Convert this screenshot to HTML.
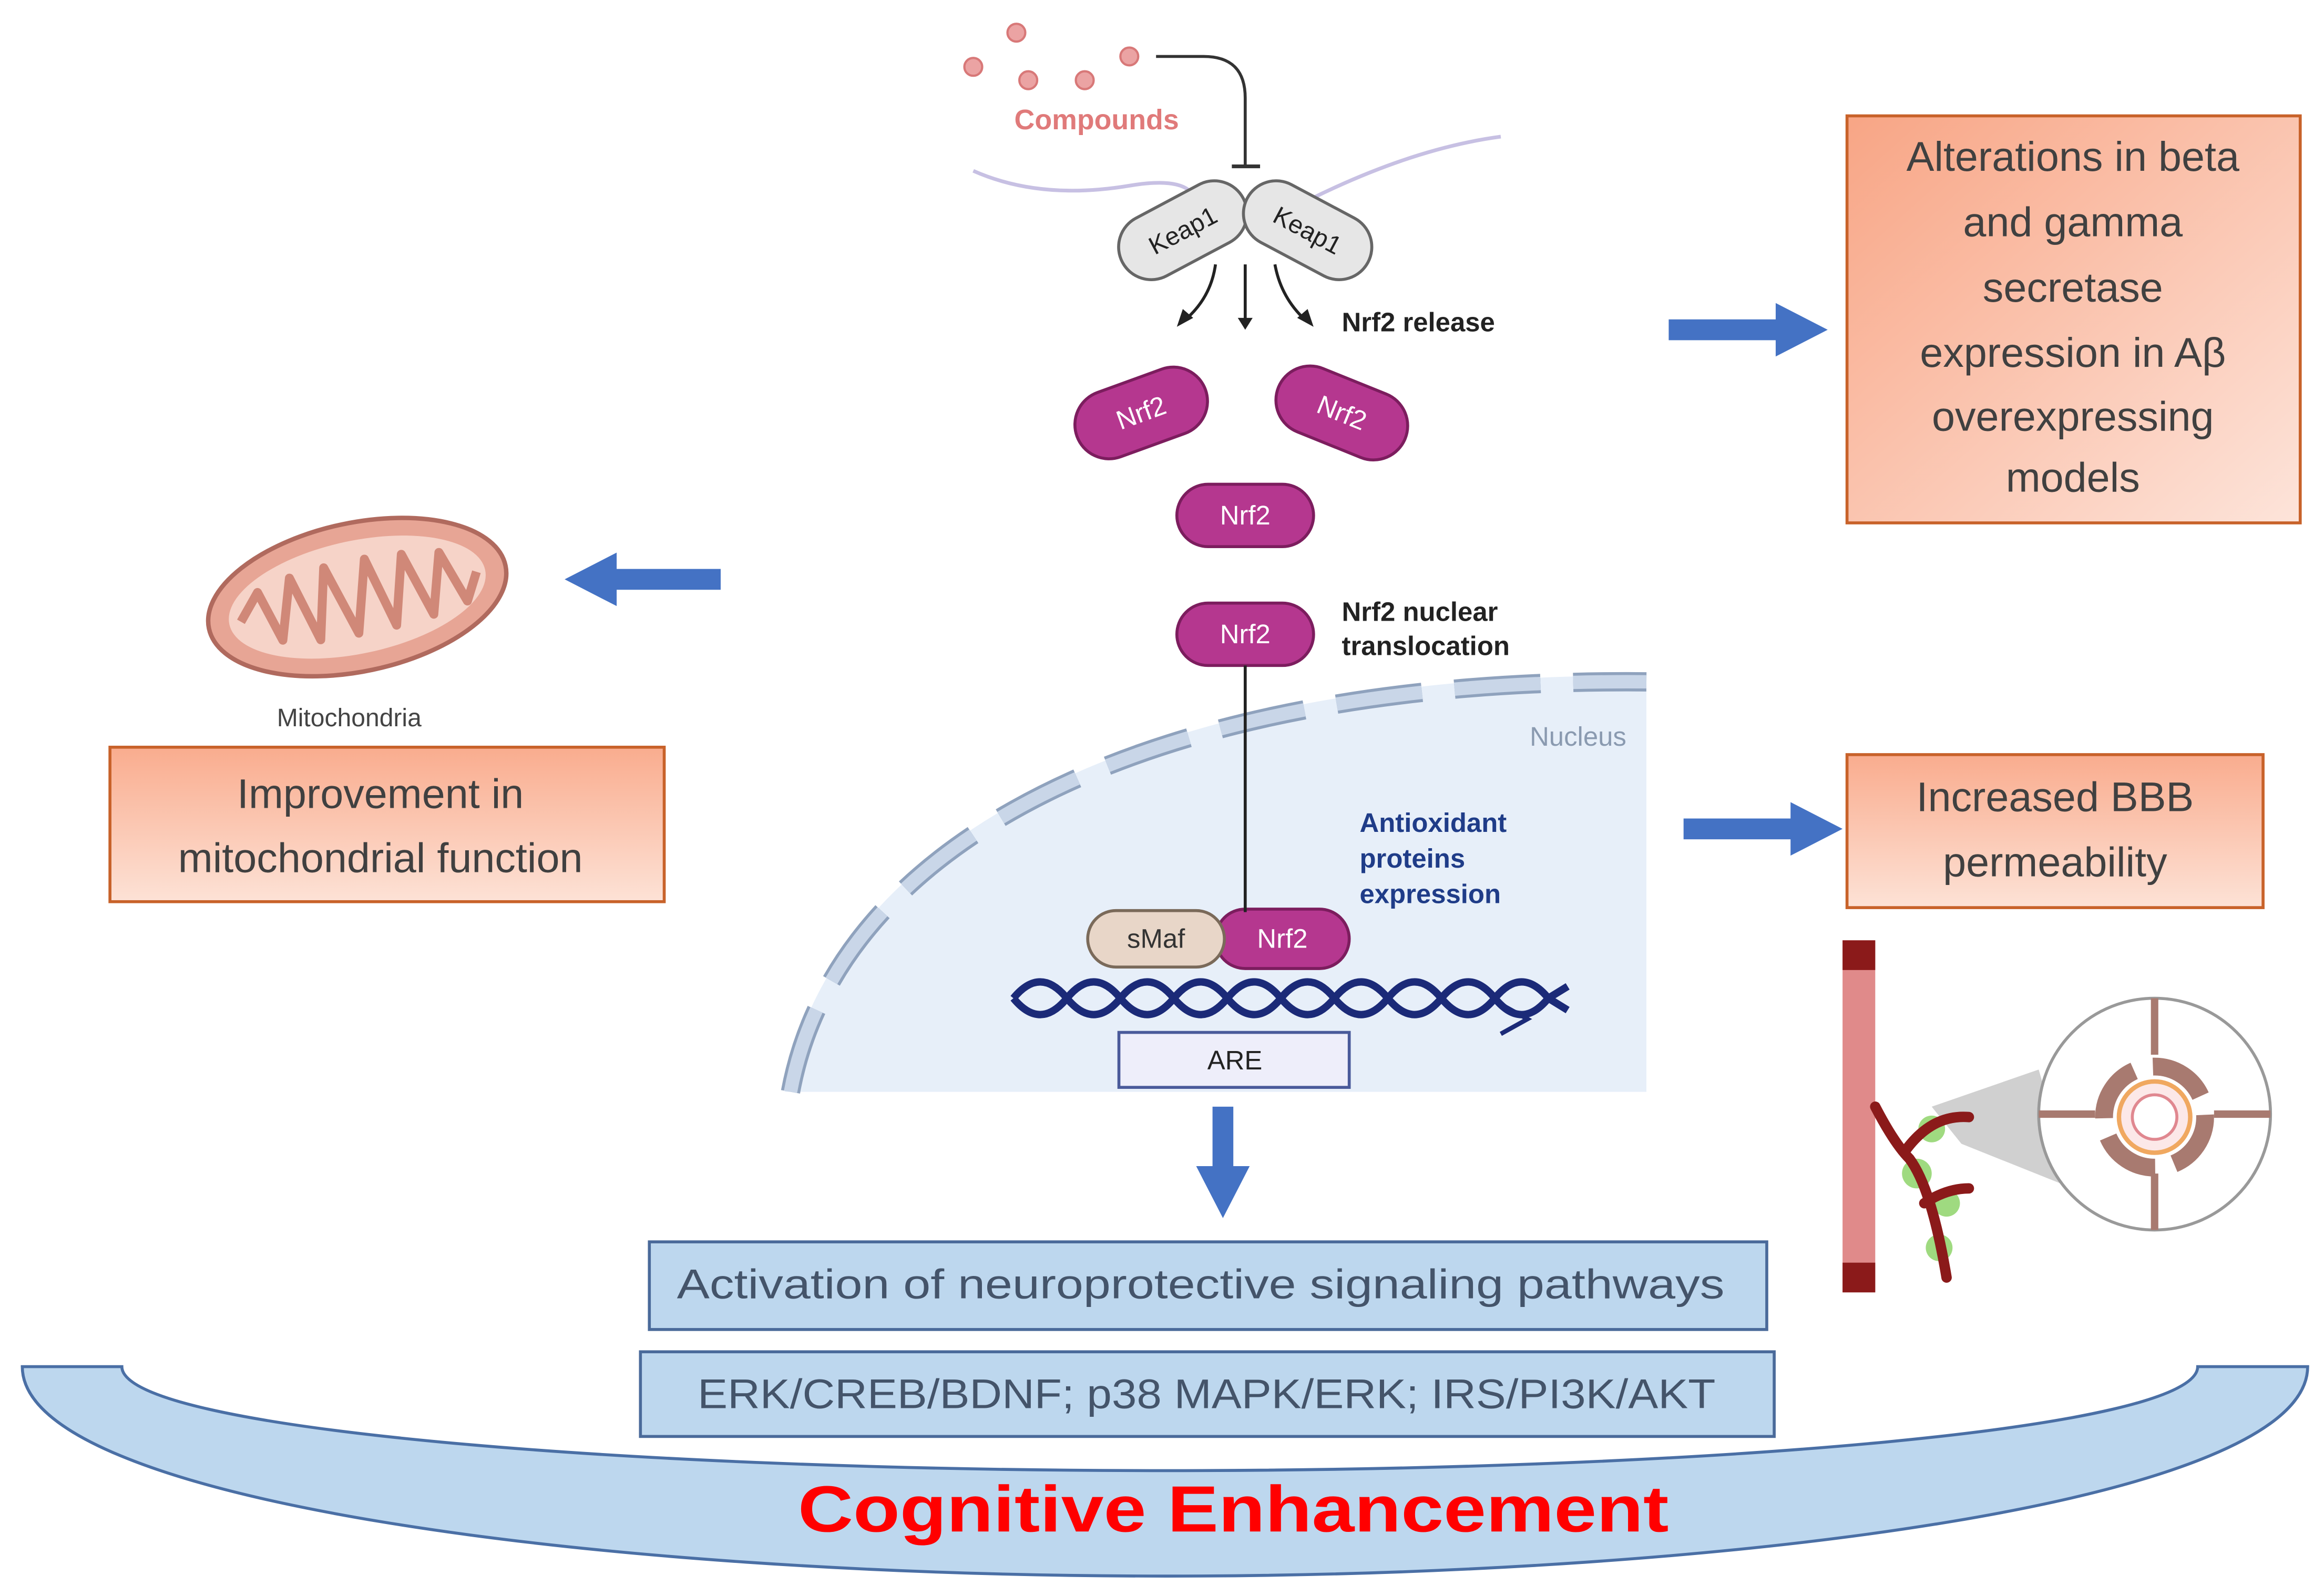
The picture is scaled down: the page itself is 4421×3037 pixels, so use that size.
<!DOCTYPE html>
<html><head><meta charset="utf-8"><style>html,body{margin:0;padding:0;background:#fff}svg{display:block}</style></head>
<body>
<svg width="4421" height="3037" viewBox="0 0 1564 1074.4" preserveAspectRatio="none" xmlns="http://www.w3.org/2000/svg" font-family="Liberation Sans, sans-serif">
<defs>
<linearGradient id="og" x1="0" y1="0" x2="1" y2="1"><stop offset="0" stop-color="#f8a585"/><stop offset="1" stop-color="#fde4da"/></linearGradient>
<linearGradient id="og2" x1="0" y1="0" x2="0" y2="1"><stop offset="0" stop-color="#f9ac8e"/><stop offset="1" stop-color="#fde2d6"/></linearGradient>
</defs>
<path d="M528,735 C560,560 780,452 1108,455 L1108,735 Z" fill="#e7eff9"/>
<path d="M532,735 C564,562 782,456 1108,459" fill="none" stroke="#8fa2bd" stroke-width="13" stroke-dasharray="58 22"/>
<path d="M532,735 C564,562 782,456 1108,459" fill="none" stroke="#c9d6e8" stroke-width="9" stroke-dasharray="58 22"/>
<text x="1062" y="502" font-size="18" fill="#8a9ab0" text-anchor="middle">Nucleus</text>
<g font-size="18" font-weight="bold" fill="#1f3c88">
<text x="915" y="560">Antioxidant</text><text x="915" y="584">proteins</text><text x="915" y="608">expression</text></g>
<g fill="#eba3a3" stroke="#d87878" stroke-width="1.5">
<circle cx="655" cy="45" r="6"/><circle cx="684" cy="22" r="6"/><circle cx="692" cy="54" r="6"/><circle cx="730" cy="54" r="6"/><circle cx="760" cy="38" r="6"/></g>
<text x="738" y="87" font-size="19" font-weight="bold" fill="#e07a7a" text-anchor="middle">Compounds</text>
<path d="M778,38 L810,38 Q838,38 838,66 L838,112" fill="none" stroke="#333" stroke-width="2"/>
<path d="M829,112 L848,112" stroke="#333" stroke-width="2.5"/>
<path d="M655,115 Q700,135 760,125 Q790,120 800,128" fill="none" stroke="#c7c0e3" stroke-width="2.5"/>
<path d="M880,135 Q950,100 1010,92" fill="none" stroke="#c7c0e3" stroke-width="2.5"/>
<g stroke="#666" stroke-width="2" fill="#e6e6e6">
<rect x="750" y="133" width="92" height="44" rx="22" transform="rotate(-28 796 155)"/>
<rect x="834" y="133" width="92" height="44" rx="22" transform="rotate(28 880 155)"/></g>
<text x="796" y="161" font-size="17" fill="#222" text-anchor="middle" transform="rotate(-28 796 155)">Keap1</text>
<text x="880" y="161" font-size="17" fill="#222" text-anchor="middle" transform="rotate(28 880 155)">Keap1</text>
<g stroke="#222" stroke-width="2" fill="none">
<path d="M818,178 Q815,200 798,215"/><path d="M838,178 L838,216"/><path d="M858,178 Q862,200 878,215"/></g>
<g fill="#222"><path d="M792,220 L796,208 L803,214Z"/><path d="M833,214 L843,214 L838,222Z"/><path d="M884,220 L873,214 L880,208Z"/></g>
<text x="903" y="223" font-size="18" font-weight="bold" fill="#222">Nrf2 release</text>
<g fill="#b5378f" stroke="#7c1d5e" stroke-width="2">
<rect x="722" y="255" width="92" height="46" rx="23" transform="rotate(-20 768 278)"/>
<rect x="857" y="255" width="92" height="46" rx="23" transform="rotate(22 903 278)"/>
<rect x="792" y="326" width="92" height="42" rx="21"/>
<rect x="792" y="406" width="92" height="42" rx="21"/>
<rect x="818" y="612" width="90" height="40" rx="20"/></g>
<g font-size="18" fill="#fff" text-anchor="middle">
<text x="768" y="284" transform="rotate(-20 768 278)">Nrf2</text>
<text x="903" y="284" transform="rotate(22 903 278)">Nrf2</text>
<text x="838" y="353">Nrf2</text><text x="838" y="433">Nrf2</text><text x="863" y="638">Nrf2</text></g>
<g font-size="18" font-weight="bold" fill="#222"><text x="903" y="418">Nrf2 nuclear</text><text x="903" y="441">translocation</text></g>
<path d="M838,448 L838,614" stroke="#222" stroke-width="2"/>
<rect x="732" y="613" width="92" height="38" rx="19" fill="#e8d6c8" stroke="#7a6a5a" stroke-width="2"/>
<text x="778" y="638" font-size="18" fill="#333" text-anchor="middle">sMaf</text>
<g fill="none" stroke="#1b2a78" stroke-width="5">
<path d="M682,672 Q700,650 718,672 T754,672 T790,672 T826,672 T862,672 T898,672 T934,672 T970,672 T1006,672 T1042,672 L1055,680"/>
<path d="M682,672 Q700,694 718,672 T754,672 T790,672 T826,672 T862,672 T898,672 T934,672 T970,672 T1006,672 T1042,672 L1055,664"/></g>
<path d="M1010,676 L1028,686 L1010,696" fill="none" stroke="#1b2a78" stroke-width="3"/>
<rect x="753" y="695" width="155" height="37" fill="#eeeefa" stroke="#4a5a9a" stroke-width="2"/>
<text x="831" y="720" font-size="18" fill="#222" text-anchor="middle">ARE</text>
<g fill="#4472c4">
<path d="M1123,215 L1195,215 L1195,204 L1230,222 L1195,240 L1195,229 L1123,229Z"/>
<path d="M485,383 L415,383 L415,372 L380,390 L415,408 L415,397 L485,397Z"/>
<path d="M1133,551 L1205,551 L1205,540 L1240,558 L1205,576 L1205,565 L1133,565Z"/>
<path d="M816,745 L830,745 L830,785 L841,785 L823,820 L805,785 L816,785Z"/></g>
<rect x="1243" y="78" width="305" height="274" fill="url(#og)" stroke="#c8622a" stroke-width="2"/>
<g font-size="28" fill="#404040" text-anchor="middle">
<text x="1395" y="115">Alterations in beta</text><text x="1395" y="159">and gamma</text><text x="1395" y="203">secretase</text><text x="1395" y="247">expression in Aβ</text><text x="1395" y="290">overexpressing</text><text x="1395" y="331">models</text></g>
<rect x="74" y="503" width="373" height="104" fill="url(#og2)" stroke="#c8622a" stroke-width="2"/>
<g font-size="28" fill="#404040" text-anchor="middle"><text x="256" y="544">Improvement in</text><text x="256" y="587">mitochondrial function</text></g>
<rect x="1243" y="508" width="280" height="103" fill="url(#og2)" stroke="#c8622a" stroke-width="2"/>
<g font-size="28" fill="#404040" text-anchor="middle"><text x="1383" y="546">Increased BBB</text><text x="1383" y="590">permeability</text></g>
<g transform="rotate(-12 240 400)">
<ellipse cx="240" cy="402" rx="102" ry="50" fill="#e7a595" stroke="#b06a5e" stroke-width="3"/>
<ellipse cx="240" cy="402" rx="88" ry="38" fill="#f6d3c8"/>
<path d="M160,402 L175,385 L185,420 L198,380 L210,425 L222,378 L236,426 L250,378 L262,426 L275,380 L288,424 L300,384 L312,420 L322,402" fill="none" stroke="#d08878" stroke-width="6" stroke-linejoin="round"/></g>
<text x="235" y="489" font-size="17" fill="#444" text-anchor="middle">Mitochondria</text>
<rect x="1240" y="633" width="22" height="237" fill="#e08a8a"/>
<rect x="1240" y="633" width="22" height="20" fill="#8b1a1a"/><rect x="1240" y="850" width="22" height="20" fill="#8b1a1a"/>
<path d="M1300,745 L1372,720 L1395,800 L1320,770Z" fill="#d0d0d0"/>
<g fill="#8fd46a" opacity="0.85"><circle cx="1300" cy="760" r="9"/><circle cx="1290" cy="790" r="10"/><circle cx="1310" cy="810" r="9"/><circle cx="1305" cy="840" r="9"/></g>
<g fill="none" stroke="#8b1a1a" stroke-width="7" stroke-linecap="round">
<path d="M1262,745 Q1275,770 1285,780 Q1300,800 1310,860"/><path d="M1282,775 Q1300,750 1325,752"/><path d="M1295,810 Q1310,800 1325,800"/></g>
<circle cx="1450" cy="750" r="78" fill="#fff" stroke="#999" stroke-width="2"/>
<g stroke="#a87a70" stroke-width="5"><path d="M1450,672 L1450,710"/><path d="M1450,790 L1450,828"/><path d="M1372,750 L1410,750"/><path d="M1490,750 L1528,750"/></g>
<circle cx="1450" cy="752" r="34" fill="none" stroke="#a87a70" stroke-width="12" stroke-dasharray="40 13"/>
<circle cx="1450" cy="752" r="24" fill="#fce8e8" stroke="#f0a860" stroke-width="3"/>
<circle cx="1450" cy="752" r="15" fill="#fff" stroke="#e08890" stroke-width="2"/>
<rect x="437" y="836" width="752" height="59" fill="#bdd7ee" stroke="#4a6a9a" stroke-width="2"/>
<text x="808" y="874" font-size="28" fill="#44546a" text-anchor="middle" textLength="705" lengthAdjust="spacingAndGlyphs">Activation of neuroprotective signaling pathways</text>
<rect x="431" y="910" width="763" height="57" fill="#bdd7ee" stroke="#4a6a9a" stroke-width="2"/>
<text x="812" y="948" font-size="28" fill="#44546a" text-anchor="middle" textLength="685" lengthAdjust="spacingAndGlyphs">ERK/CREB/BDNF; p38 MAPK/ERK; IRS/PI3K/AKT</text>
<path d="M15,920 C15,1010 400,1061 785,1061 C1170,1061 1553,1010 1553,920 L1479,920 C1479,962 1150,990 785,990 C420,990 82,962 82,920 Z" fill="#bdd7ee" stroke="#4a6fa5" stroke-width="2"/>
<text x="830" y="1031" font-size="44" font-weight="bold" fill="#ff0000" text-anchor="middle" textLength="586" lengthAdjust="spacingAndGlyphs">Cognitive Enhancement</text>
</svg>
</body></html>
